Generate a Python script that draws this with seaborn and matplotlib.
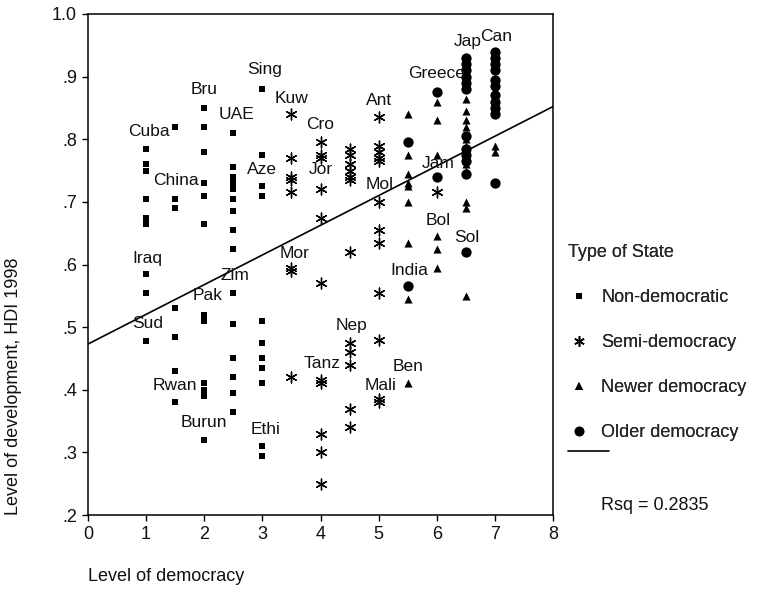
import numpy as np
import pandas as pd
import matplotlib
matplotlib.use("Agg")
import matplotlib.pyplot as plt
from matplotlib.lines import Line2D
import seaborn as sns

# ---------------- data ----------------
nondem_x = [1]*9 + [1.5]*7 + [2]*12 + [2.5]*15 + [3]*11
nondem_y = [0.785, 0.76, 0.75, 0.705, 0.675, 0.665, 0.585, 0.555, 0.478,
            0.82, 0.705, 0.69, 0.53, 0.485, 0.43, 0.38,
            0.85, 0.82, 0.78, 0.73, 0.71, 0.665, 0.52, 0.51, 0.41, 0.40, 0.39, 0.32,
            0.81, 0.755, 0.74, 0.73, 0.72, 0.705, 0.685, 0.655, 0.625, 0.555, 0.505,
            0.45, 0.42, 0.395, 0.365,
            0.88, 0.775, 0.725, 0.71, 0.51, 0.475, 0.45, 0.435, 0.41, 0.31, 0.295]

semi_x = [3.5]*8 + [4]*11 + [4.5]*12 + [5]*12 + [6]
semi_y = [0.84, 0.77, 0.74, 0.735, 0.715, 0.595, 0.59, 0.42,
          0.795, 0.775, 0.77, 0.72, 0.675, 0.57, 0.415, 0.41, 0.33, 0.30, 0.25,
          0.785, 0.775, 0.76, 0.75, 0.74, 0.735, 0.62, 0.475, 0.46, 0.44, 0.37, 0.34,
          0.835, 0.79, 0.78, 0.77, 0.765, 0.70, 0.655, 0.635, 0.555, 0.48, 0.385, 0.38,
          0.715]

newer_x = [5.5]*9 + [6]*6 + [6.5]*11 + [7]*2
newer_y = [0.84, 0.775, 0.745, 0.73, 0.725, 0.70, 0.635, 0.545, 0.41,
           0.86, 0.83, 0.775, 0.645, 0.625, 0.595,
           0.865, 0.845, 0.83, 0.82, 0.80, 0.79, 0.76, 0.75, 0.70, 0.69, 0.55,
           0.79, 0.78]

older_x = [5.5]*2 + [6]*2 + [6.5]*12 + [7]*11
older_y = [0.795, 0.565,
           0.875, 0.74,
           0.93, 0.92, 0.91, 0.90, 0.89, 0.88, 0.805, 0.785, 0.775, 0.765, 0.745, 0.62,
           0.94, 0.93, 0.92, 0.91, 0.895, 0.885, 0.87, 0.86, 0.85, 0.84, 0.73]

# fitted regression line
reg_intercept = 0.473
reg_slope = 0.0474
rsq_text = "Rsq = 0.2835"

# country labels
label_names = ["Cuba", "Bru", "UAE", "Sing", "Kuw", "Cro", "Jor", "Aze", "China",
               "Ant", "Mol", "Greece", "Jap", "Can", "Jam", "Bol", "Sol", "India",
               "Iraq", "Mor", "Zim", "Pak", "Sud", "Rwan", "Burun", "Ethi",
               "Nep", "Tanz", "Ben", "Mali"]
label_x = [1.04, 2.0, 2.55, 3.04, 3.5, 4.0, 4.0, 3.0, 1.51,
           5.0, 5.02, 6.0, 6.54, 7.03, 6.03, 6.03, 6.52, 5.52,
           1.02, 3.55, 2.53, 2.05, 1.03, 1.50, 2.0, 3.05,
           4.53, 4.03, 5.5, 5.03]
label_y = [0.812, 0.879, 0.839, 0.911, 0.865, 0.823, 0.751, 0.752, 0.734,
           0.862, 0.727, 0.905, 0.956, 0.964, 0.761, 0.671, 0.643, 0.591,
           0.610, 0.618, 0.583, 0.551, 0.506, 0.407, 0.347, 0.337,
           0.503, 0.442, 0.437, 0.407]

legend_labels = ["Non-democratic", "Semi-democracy", "Newer democracy", "Older democracy"]
y_ticks = [0.2, 0.3, 0.4, 0.5, 0.6, 0.7, 0.8, 0.9, 1.0]
y_ticklabels = [".2", ".3", ".4", ".5", ".6", ".7", ".8", ".9", "1.0"]
x_ticks = [0, 1, 2, 3, 4, 5, 6, 7, 8]

# ---------------- plotting ----------------
sns.set_theme(style="white")
plt.rcParams["font.family"] = ["Liberation Sans", "DejaVu Sans"]

fig = plt.figure(figsize=(7.61, 5.90), dpi=100)
ax = fig.add_axes([88/761, 75/590, 465/761, 501/590])

ast = (6, 2, 0)
sns.scatterplot(x=nondem_x, y=nondem_y, marker="s", s=24, color="black",
                linewidth=0, ax=ax, zorder=3)
sns.scatterplot(x=semi_x, y=semi_y, marker=ast, s=60, color="black",
                linewidth=1.0, ax=ax, zorder=3)
sns.scatterplot(x=newer_x, y=newer_y, marker="^", s=34, color="black",
                linewidth=0, ax=ax, zorder=3)
sns.scatterplot(x=older_x, y=older_y, marker="o", s=55, color="black",
                linewidth=0, ax=ax, zorder=3)

xs = np.array([0.0, 8.0])
sns.lineplot(x=xs, y=reg_intercept + reg_slope * xs, color="black",
             linewidth=1.2, ax=ax, zorder=2)

for name, lx, ly in zip(label_names, label_x, label_y):
    ax.text(lx, ly, name, ha="center", va="center", fontsize=12.5, color="#111111", zorder=4)

ax.set_xlim(0, 8)
ax.set_ylim(0.2, 1.0)
ax.set_xticks(x_ticks)
ax.set_xticklabels([str(t) for t in x_ticks])
ax.set_yticks(y_ticks)
ax.set_yticklabels(y_ticklabels)
ax.tick_params(axis="both", direction="out", length=4, width=1, color="black",
               labelsize=13, labelcolor="#111111", left=True, bottom=True, pad=4)
for sp in ax.spines.values():
    sp.set_visible(True)
    sp.set_color("black")
    sp.set_linewidth(1.1)

ax.set_xlabel("Level of democracy", fontsize=13, loc="left", color="#111111")
ax.xaxis.set_label_coords(0.0, -0.105)
ax.set_ylabel("Level of development, HDI 1998", fontsize=13, loc="bottom", color="#111111")
ax.yaxis.set_label_coords(-0.142, 0.0)

handles = [
    Line2D([], [], linestyle="none", marker="s", markersize=4.5, color="black", markeredgewidth=0),
    Line2D([], [], linestyle="none", marker=ast, markersize=7.5, color="black", markeredgewidth=1.0),
    Line2D([], [], linestyle="none", marker="^", markersize=5.5, color="black", markeredgewidth=0),
    Line2D([], [], linestyle="none", marker="o", markersize=7, color="black", markeredgewidth=0),
]
leg = fig.legend(handles, legend_labels, title="Type of State", loc="upper left",
                 bbox_to_anchor=(0.746, 0.586), frameon=False, alignment="left",
                 labelspacing=1.55, handletextpad=0.55, handlelength=1.3,
                 fontsize=13, title_fontsize=13, borderaxespad=0, borderpad=0)
fig.add_artist(leg)
leg2 = fig.legend([Line2D([], [], color="black", linewidth=1.2)], [""], loc="center left",
                  bbox_to_anchor=(0.746, 1 - 452/590), frameon=False,
                  handlelength=2.7, borderaxespad=0, borderpad=0, handletextpad=0)
fig.text(601/761, 1 - 505/590, rsq_text, ha="left", va="center", fontsize=13, color="#111111")

fig.savefig("out.png", dpi=100, facecolor="white")
